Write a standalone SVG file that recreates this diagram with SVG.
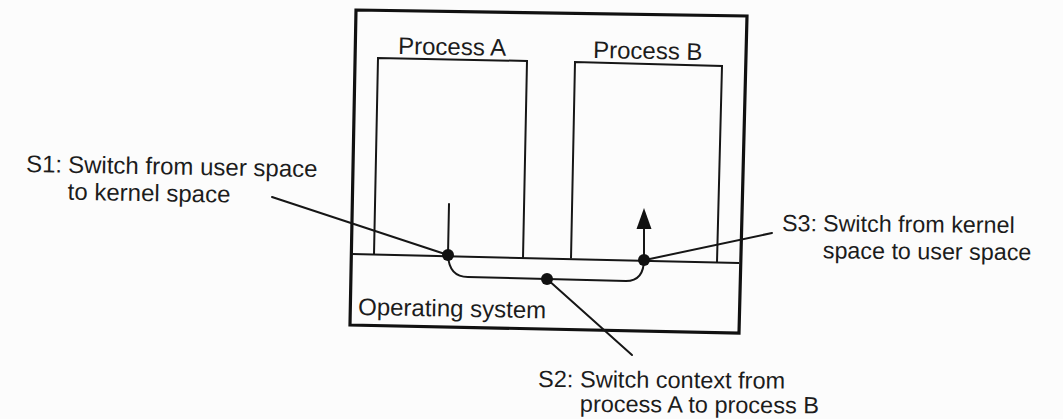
<svg xmlns="http://www.w3.org/2000/svg" width="1063" height="419" viewBox="0 0 1063 419">
<style>
.ln{fill:none;stroke:#161616;stroke-width:2;stroke-linecap:round;stroke-linejoin:round}
.box{fill:none;stroke:#161616;stroke-width:2;stroke-linejoin:miter}
.outer{fill:none;stroke:#111;stroke-width:3.2}
.dot{fill:#111}
text{font-family:"Liberation Sans",Arial,sans-serif;fill:#1c1c1c}
</style>
<rect width="1063" height="419" fill="#fcfcfc"/>
<g id="system">
<polygon class="outer" points="356,10 747,16 739,333 350,325"/>
</g>
<g id="processA">
<path class="box" d="M374,254.5 L378,58 L527,61 L523,258"/>
<text x="398" y="54" font-size="24" transform="rotate(1 398 54)">Process A</text>
</g>
<g id="processB">
<path class="box" d="M571,258.6 L575,62 L722,66 L717,262"/>
<text x="593" y="58" font-size="24" transform="rotate(1 593 58)">Process B</text>
</g>
<g id="os">
<path class="box" d="M352,254 L739,263"/>
<text x="358" y="315" font-size="24" transform="rotate(1 358 315)">Operating system</text>
</g>
<g id="connectors">
<path class="ln" d="M449,204 L448,255"/>
<path class="ln" d="M448,255 Q449,277 468,277 L626,281 Q644,281 644,259"/>
<path class="ln" d="M644,259 L644,224"/>
<polygon points="644,208 636.5,229 651.5,229" fill="#111"/>
<path class="ln" d="M272,197 L448,255"/>
<path class="ln" d="M645,260 L772,233"/>
<path class="ln" d="M547,279 L632,355"/>
</g>
<g id="s1">
<circle class="dot" cx="448" cy="255" r="6"/>
<text font-size="24" transform="rotate(1 26 172)"><tspan x="26" y="172">S1:</tspan><tspan x="68" y="172">Switch from user space</tspan><tspan x="68" y="199">to kernel space</tspan></text>
</g>
<g id="s2">
<circle class="dot" cx="547" cy="279" r="6"/>
<text font-size="23.5" transform="rotate(0.4 538 387)"><tspan x="538" y="387">S2:</tspan><tspan x="580" y="387">Switch context from</tspan><tspan x="580" y="411.5">process A to process B</tspan></text>
</g>
<g id="s3">
<circle class="dot" cx="644" cy="260" r="6"/>
<text font-size="23.3" transform="rotate(0.5 782 231)"><tspan x="782" y="231">S3:</tspan><tspan x="823" y="231">Switch from kernel</tspan><tspan x="823" y="258">space to user space</tspan></text>
</g>
</svg>
